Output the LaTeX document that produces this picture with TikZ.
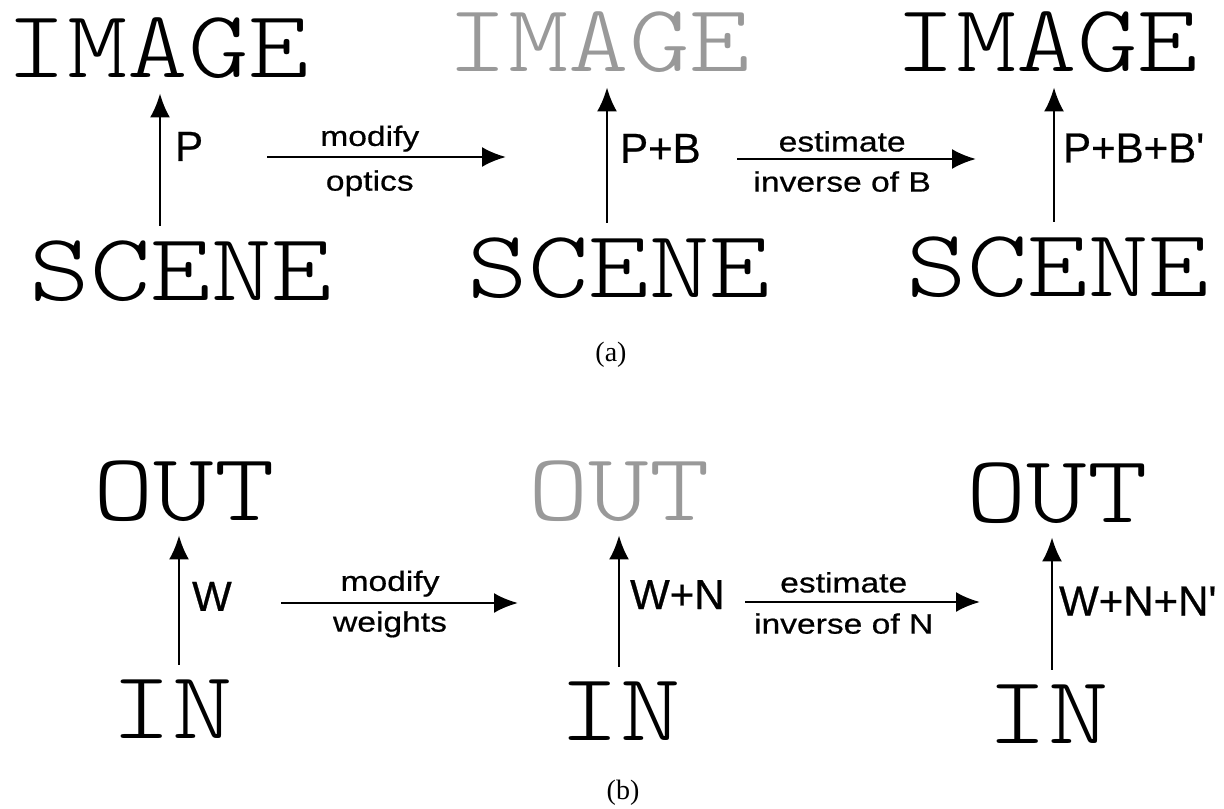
\documentclass[tikz,border=0pt]{standalone}
\usepackage{fontspec}
\setsansfont{Liberation Sans}
\newfontfamily\plotfont[FakeStretch=1.2]{lmmonolt10-regular.otf}
\newfontfamily\mapfont[FakeBold=0.6]{Liberation Sans}
\newfontfamily\stepfont[FakeStretch=1.2, FakeBold=0.6]{Liberation Sans}
\newfontfamily\captionfont{Liberation Serif}
\usetikzlibrary{arrows.meta}

\begin{document}
\begin{tikzpicture}[>={Latex[length=12pt,width=10pt]}, x=0.5pt, y=-0.5pt,
		bigword/.style={font=\plotfont\fontsize{48pt}{48pt}\selectfont, inner xsep=0pt, inner ysep=7pt, anchor=base},
		faded/.style={bigword, text=black!40},
		maplabel/.style={font=\mapfont\fontsize{21pt}{21pt}\selectfont, inner sep=0pt},
		steplabel/.style={font=\stepfont\fontsize{14pt}{14pt}\selectfont, inner sep=0pt},
		flow/.style={->, line width=1.1pt},
		move/.style={->, line width=1.3pt},
		tag/.style={font=\captionfont\fontsize{14pt}{14pt}\selectfont}]
		\useasboundingbox (0,0) rectangle (1224,808);
		%				\draw [help lines, step=50] (0,0) grid (1224,808);
		% (a)
		\node [bigword] (iA) at (158,78) {IMAGE};
		\node [faded] (iB) at (599,72) {IMAGE};
		\node [bigword] (iC) at (1047,72) {IMAGE};
		\node [bigword] (sA) at (181,300) {SCENE};
		\node [bigword] (sB) at (619,297) {SCENE};
		\node [bigword] (sC) at (1058,296) {SCENE};
		\coordinate (cA) at (160,0);
		\coordinate (cB) at (607,0);
		\coordinate (cC) at (1054,0);
		\draw [flow] (sA.north -| cA) -- (iA.south -| cA) node [maplabel, pos=0.6, right=7pt] {P};
		\draw [flow] (sB.north -| cB) -- (iB.south -| cB) node [maplabel, pos=0.55, right=6pt] {P+B};
		\draw [flow] (sC.north -| cC) -- (iC.south -| cC) node [maplabel, pos=0.55, right=4pt] {P+B+B\textquotesingle};
		\coordinate (mA1) at (267,157);
		\coordinate (mA2) at (506,157);
		\coordinate (mB1) at (737,159);
		\coordinate (mB2) at (976,159);
		\draw [move] (mA1) -- (mA2) node [steplabel, pos=0.43, above=2pt] {modify} node [steplabel, pos=0.43, below=6pt] {optics};
		\draw [move] (mB1) -- (mB2) node [steplabel, pos=0.44, above=3pt] {estimate} node [steplabel, pos=0.44, below=5.5pt] {inverse of B};
		\node [tag] (capA) at (611,355) {(a)};
		% (b)
		\node [bigword] (oA) at (184,520) {OUT};
		\node [faded] (oB) at (619,520) {OUT};
		\node [bigword] (oC) at (1057,522) {OUT};
		\node [bigword] (nA) at (172,738) {IN};
		\node [bigword] (nB) at (620,740) {IN};
		\node [bigword] (nC) at (1048,743) {IN};
		\coordinate (dA) at (179,0);
		\coordinate (dB) at (619,0);
		\coordinate (dC) at (1052,0);
		\draw [flow] (nA.north -| dA) -- (oA.south -| dA) node [maplabel, pos=0.53, right=6pt] {W};
		\draw [flow] (nB.north -| dB) -- (oB.south -| dB) node [maplabel, pos=0.55, right=5pt] {W+N};
		\draw [flow] (nC.north -| dC) -- (oC.south -| dC) node [maplabel, pos=0.52, right=3pt] {W+N+N\textquotesingle};
		\coordinate (wA1) at (281,603);
		\coordinate (wA2) at (518,603);
		\coordinate (wB1) at (745,602);
		\coordinate (wB2) at (980,602);
		\draw [move] (wA1) -- (wA2) node [steplabel, pos=0.46, above=2.5pt] {modify} node [steplabel, pos=0.46, below=3.5pt] {weights};
		\draw [move] (wB1) -- (wB2) node [steplabel, pos=0.42, above=4pt] {estimate} node [steplabel, pos=0.42, below=5pt] {inverse of N};
		\node [tag] (capB) at (623,793) {(b)};
\end{tikzpicture}
\end{document}
